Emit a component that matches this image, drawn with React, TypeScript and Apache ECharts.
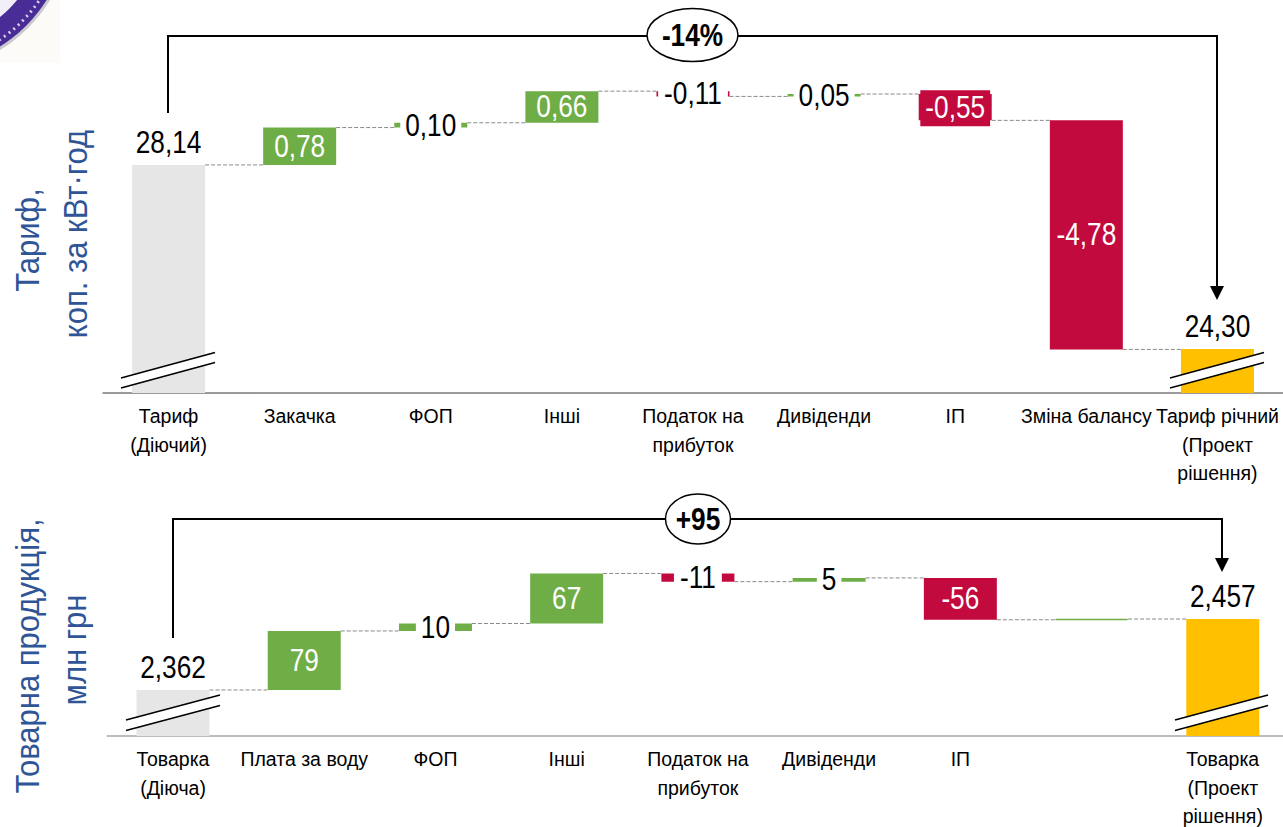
import React, { useEffect, useRef } from "react";
import * as echarts from "echarts";

const FONT = '"Liberation Sans", Arial, sans-serif';
const GREEN = "#6FAD46";
const RED = "#C20A3E";
const YELLOW = "#FFC000";
const GREY = "#E6E6E6";
const BLUE = "#2F5597";

const topCategories = ["Тариф\n(Діючий)", "Закачка", "ФОП", "Інші", "Податок на\nприбуток", "Дивіденди", "ІП", "Зміна балансу", "Тариф річний\n(Проект\nрішення)"];
const topValues = [28.14, 0.78, 0.1, 0.66, -0.11, 0.05, -0.55, -4.78, 24.3];
const topLabels = ["28,14", "0,78", "0,10", "0,66", "-0,11", "0,05", "-0,55", "-4,78", "24,30"];

const bottomCategories = ["Товарка\n(Діюча)", "Плата за воду", "ФОП", "Інші", "Податок на\nприбуток", "Дивіденди", "ІП", "", "Товарка\n(Проект\nрішення)"];
const bottomValues = [2362, 79, 10, 67, -11, 5, -56, 1, 2457];
const bottomLabels = ["2,362", "79", "10", "67", "-11", "5", "-56", "", "2,457"];

const topOutsideLabels = [2, 4, 5];
const bottomOutsideLabels = [2, 4, 5];
const topBackedLabels = [6];

const LABEL_SCALE = 0.82;
const LABEL_SIZE = 32;

function levels(values: number[]) {
  const bases: number[] = [];
  const sizes: number[] = [];
  const ends: number[] = [];
  let running = 0;
  values.forEach((v, i) => {
    if (i === 0 || i === values.length - 1) {
      bases.push(0);
      sizes.push(v);
      running = v;
    } else {
      const next = running + v;
      bases.push(Math.min(running, next));
      sizes.push(Math.abs(v));
      running = next;
    }
    ends.push(running);
  });
  return { bases, sizes, ends };
}

function colorFor(values: number[], i: number) {
  if (i === 0) return GREY;
  if (i === values.length - 1) return YELLOW;
  return values[i] >= 0 ? GREEN : RED;
}

function labelWidth(text: string) {
  let em = 0;
  for (const c of text) em += c === "," ? 0.278 : c === "-" ? 0.333 : 0.556;
  return em * LABEL_SIZE * LABEL_SCALE;
}

function buildSeries(idx: number, values: number[], labels: string[], outside: number[], backed: number[]) {
  const { bases, sizes, ends } = levels(values);
  const halfBar = 36.5;
  return [
    {
      type: "bar",
      xAxisIndex: idx,
      yAxisIndex: idx,
      stack: "s" + idx,
      barWidth: 73,
      silent: true,
      itemStyle: { color: "transparent" },
      data: bases,
    },
    {
      type: "bar",
      xAxisIndex: idx,
      yAxisIndex: idx,
      stack: "s" + idx,
      barWidth: 73,
      z: 3,
      data: sizes.map((s, i) => {
        const color = colorFor(values, i);
        return {
          value: s,
          itemStyle: labels[i] === "" ? { color, borderColor: color, borderWidth: 1.5 } : { color },
        };
      }),
    },
    {
      type: "custom",
      xAxisIndex: idx,
      yAxisIndex: idx,
      silent: true,
      z: 1,
      encode: { x: 0, y: 1 },
      data: ends.slice(0, -1).map((e, i) => [i, e]),
      renderItem: (_: any, api: any) => {
        const i = api.value(0);
        const a = api.coord([i, api.value(1)]);
        const b = api.coord([i + 1, api.value(1)]);
        return {
          type: "line",
          shape: { x1: a[0] + halfBar, y1: a[1], x2: b[0] - halfBar, y2: b[1] },
          style: { stroke: "#8A8A8A", lineWidth: 1, lineDash: [4, 2] },
        };
      },
    },
    {
      type: "custom",
      xAxisIndex: idx,
      yAxisIndex: idx,
      silent: true,
      z: 5,
      clip: false,
      encode: { x: 0, y: [1, 2] },
      data: sizes.map((s, i) => [i, bases[i], bases[i] + s]),
      renderItem: (params: any, api: any) => {
        const i = api.value(0);
        const text = labels[i];
        if (!text) return { type: "group", children: [] };
        const total = i === 0 || i === values.length - 1;
        const top = api.coord([i, api.value(2)]);
        const bottom = api.coord([i, api.value(1)]);
        const x = top[0];
        const y = total ? top[1] - 22.5 : (top[1] + bottom[1]) / 2;
        const isOut = outside.includes(i);
        const isBacked = backed.includes(i);
        const w = labelWidth(text) + 10;
        const children: any[] = [];
        if (isOut || isBacked) {
          children.push({
            type: "rect",
            shape: { x: x - w / 2, y: y - 17, width: w, height: 36 },
            style: { fill: isOut ? "#fff" : RED },
          });
        }
        children.push({
          type: "text",
          x,
          y: y - 0.5,
          scaleX: LABEL_SCALE,
          style: {
            text,
            font: `${LABEL_SIZE}px ${FONT}`,
            fill: total || isOut ? "#000" : "#fff",
            textAlign: "center",
            textVerticalAlign: "middle",
          },
        });
        return { type: "group", children };
      },
    },
  ];
}

function xAxis(idx: number, data: string[], color: string) {
  return {
    type: "category",
    gridIndex: idx,
    data,
    axisLine: { show: true, lineStyle: { color, width: 1.5 } },
    axisTick: { show: false },
    axisLabel: {
      fontFamily: FONT,
      fontSize: 19.5,
      lineHeight: 28.5,
      color: "#000",
      interval: 0,
      margin: 9,
      hideOverlap: false,
    },
  };
}

function bracket(x1: number, yStart: number, yTop: number, x2: number, yTip: number, cx: number, cy: number, rx: number, ry: number, text: string) {
  return [
    {
      type: "polyline",
      z: 50,
      shape: { points: [[x1, yStart], [x1, yTop], [x2, yTop], [x2, yTip - 12]] },
      style: { stroke: "#000", lineWidth: 2, fill: "none" },
    },
    {
      type: "polygon",
      z: 50,
      shape: { points: [[x2 - 7, yTip - 14], [x2 + 7, yTip - 14], [x2, yTip]] },
      style: { fill: "#000" },
    },
    {
      type: "ellipse",
      z: 51,
      shape: { cx, cy, rx, ry },
      style: { fill: "#fff", stroke: "#000", lineWidth: 1.5 },
    },
    {
      type: "text",
      z: 52,
      x: cx,
      y: cy,
      scaleX: 0.82,
      style: { text, font: `bold 32px ${FONT}`, fill: "#000", textAlign: "center", textVerticalAlign: "middle" },
    },
  ];
}

function breakMark(x1: number, y1: number, x2: number, y2: number, gap: number) {
  return [
    {
      type: "polygon",
      z: 40,
      shape: { points: [[x1, y1], [x2, y2], [x2, y2 + gap], [x1, y1 + gap]] },
      style: { fill: "#fff" },
    },
    { type: "line", z: 41, shape: { x1, y1, x2, y2 }, style: { stroke: "#000", lineWidth: 1.5 } },
    { type: "line", z: 41, shape: { x1, y1: y1 + gap, x2, y2: y2 + gap }, style: { stroke: "#000", lineWidth: 1.5 } },
  ];
}

function sideTitle(x: number, y: number, text: string) {
  return {
    type: "text",
    z: 30,
    x,
    y,
    rotation: Math.PI / 2,
    scaleX: 0.94,
    style: { text, font: `33px ${FONT}`, fill: BLUE, textAlign: "center", textVerticalAlign: "middle" },
  };
}

const graphicElements = [
  { type: "rect", z: 1, shape: { x: 0, y: 0, width: 60, height: 63 }, style: { fill: "#FDFBF8" } },
  { type: "circle", z: 2, shape: { cx: -78, cy: -78, r: 150 }, style: { fill: "#C9C9CF" } },
  { type: "circle", z: 3, shape: { cx: -78, cy: -78, r: 147 }, style: { fill: "#4A2C96" } },
  { type: "circle", z: 4, shape: { cx: -78, cy: -78, r: 141 }, style: { fill: "none", stroke: "#D8D0EE", lineWidth: 3, lineDash: [2, 4] } },
  { type: "circle", z: 4, shape: { cx: -78, cy: -78, r: 123 }, style: { fill: "#F1EEF8" } },
  ...bracket(168, 113, 36, 1217, 300, 692.5, 35, 45.5, 26.5, "-14%"),
  ...bracket(173, 638, 519, 1222, 572, 698, 519, 32.5, 25, "+95"),
  ...breakMark(121, 378, 215, 352.5, 10),
  ...breakMark(1170, 378, 1264, 352.5, 10),
  ...breakMark(126, 720, 220, 695, 10.5),
  ...breakMark(1175, 720, 1268, 695, 10.5),
  sideTitle(28, 240, "Тариф,"),
  sideTitle(76, 234, "коп. за кВт·год"),
  sideTitle(28, 656, "Товарна продукція,"),
  sideTitle(75, 650, "млн грн"),
];

export default function App() {
  const ref = useRef<HTMLDivElement>(null);
  useEffect(() => {
    if (!ref.current) return;
    const chart = echarts.init(ref.current, undefined, { renderer: "svg" });
    chart.setOption({
      animation: false,
      backgroundColor: "#fff",
      grid: [
        { left: 103, top: 60, width: 1180, height: 333, outerBoundsMode: "none" },
        { left: 107.4, top: 560, width: 1181, height: 176, outerBoundsMode: "none" },
      ],
      xAxis: [xAxis(0, topCategories, "#7A7A7A"), xAxis(1, bottomCategories, "#A6A6A6")],
      yAxis: [
        { type: "value", gridIndex: 0, min: 23.38, max: 30.33, show: false },
        { type: "value", gridIndex: 1, min: 2300.4, max: 2536, show: false },
      ],
      series: [
        ...buildSeries(0, topValues, topLabels, topOutsideLabels, topBackedLabels),
        ...buildSeries(1, bottomValues, bottomLabels, bottomOutsideLabels, []),
      ],
      graphic: { elements: graphicElements },
    });
    return () => chart.dispose();
  }, []);
  return <div ref={ref} style={{ position: "fixed", left: 0, top: 0, width: 1283, height: 827 }} />;
}
